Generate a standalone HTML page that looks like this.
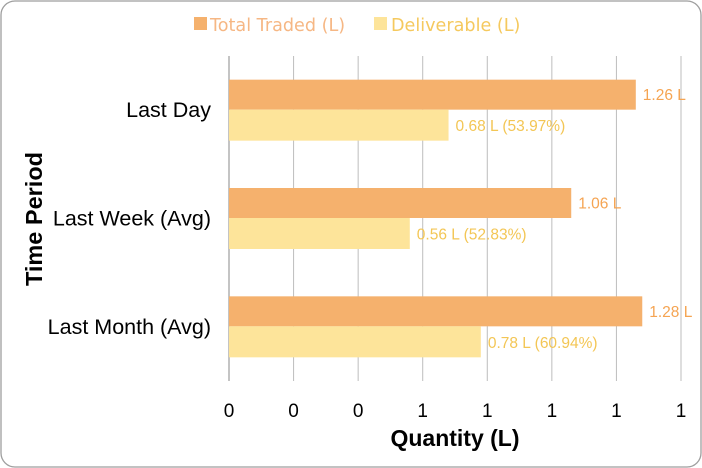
<!DOCTYPE html>
<html><head><meta charset="utf-8"><style>
body{margin:0;background:#fff;}
svg{display:block;font-family:"Liberation Sans",sans-serif;}
</style></head><body>
<svg width="702" height="468">
<rect x="1" y="1" width="700" height="466" rx="14" fill="#fff" stroke="#9e9e9e" stroke-width="1.3"/>
<g id="grid"></g>
<g id="bars"></g>
<g id="labels"></g>
<g>
<rect x="194" y="17" width="13" height="13" fill="#f5b16d"/>
<text x="210" y="31" font-size="17.6" fill="#f6b784" font-family="DejaVu Sans, sans-serif">Total Traded (L)</text>
<rect x="374" y="17" width="13" height="13" fill="#fde49a"/>
<text x="391" y="31" font-size="17.6" fill="#f5c95e" font-family="DejaVu Sans, sans-serif">Deliverable (L)</text>
</g>
<text x="455" y="446" font-size="23" font-weight="bold" text-anchor="middle" fill="#000">Quantity (L)</text>
<text transform="translate(42,219) rotate(-90)" font-size="23.5" font-weight="bold" text-anchor="middle" fill="#000">Time Period</text>
<script>
const categories=["Last Day","Last Week (Avg)","Last Month (Avg)"];
const totalTraded=[1.26,1.06,1.28];
const deliverable=[0.68,0.56,0.78];
const deliverablePct=[53.97,52.83,60.94];
const tickValues=[0,0.2,0.4,0.6,0.8,1.0,1.2,1.4];
const tickLabels=["0","0","0","1","1","1","1","1"];
const NS="http://www.w3.org/2000/svg";
const x0=229,x1=681,yTop=56,yBot=381,xMax=1.4;
const xs=v=>x0+v/xMax*(x1-x0);
const band=(yBot-yTop)/categories.length;
function mk(tag,attrs,parent,txt){const e=document.createElementNS(NS,tag);for(const k in attrs)e.setAttribute(k,attrs[k]);if(txt!==undefined)e.textContent=txt;document.getElementById(parent).appendChild(e);return e;}
tickValues.forEach((t,i)=>{
  const g=mk('line',{x1:xs(t),x2:xs(t),y1:yTop,y2:yBot,stroke:i==0?'#888':'#bdbdbd','stroke-width':1},'grid');
  
  
  const l=mk('text',{x:xs(t),y:417,'font-size':19,'text-anchor':'middle',fill:'#000'},'labels',tickLabels[i]);
  
  
});
categories.forEach((c,i)=>{
  const cy=yTop+band*(i+0.5);
  const b1=mk('rect',{x:x0,y:cy-30.5,width:xs(totalTraded[i])-x0,height:30,fill:'#f5b16d'},'bars');
  
  
  const b2=mk('rect',{x:x0,y:cy-0.5,width:xs(deliverable[i])-x0,height:31,fill:'#fde49a'},'bars');
  
  
  const t1=mk('text',{x:xs(totalTraded[i])+7,y:cy-10,'font-size':15.5,fill:'#f5a452'},'labels',totalTraded[i].toFixed(2)+' L');
  
  
  const t2=mk('text',{x:xs(deliverable[i])+7,y:cy+21,'font-size':15.5,fill:'#f3c655'},'labels',deliverable[i].toFixed(2)+' L ('+deliverablePct[i].toFixed(2)+'%)');
  
  
  const cl=mk('text',{x:211,y:cy+7,'font-size':21.5,'text-anchor':'end',fill:'#000'},'labels',c);
  
  
});
</script>
</svg>
</body></html>
